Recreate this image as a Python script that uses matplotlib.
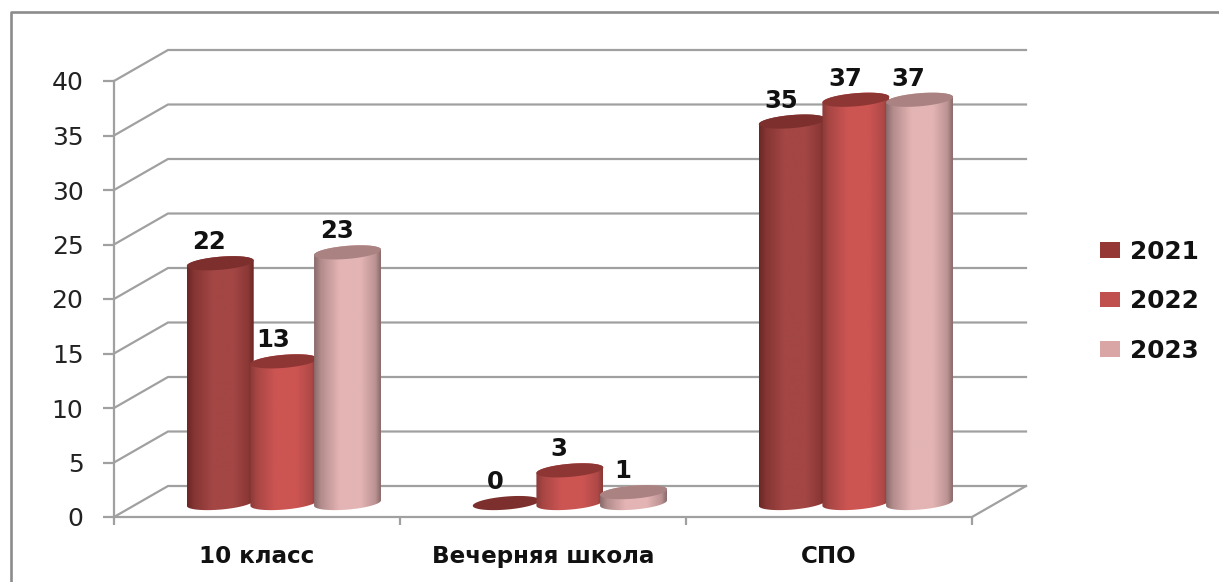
import numpy as np
import matplotlib
matplotlib.use("Agg")
import matplotlib.pyplot as plt
from matplotlib.colors import LinearSegmentedColormap, to_rgb
from matplotlib.lines import Line2D
from matplotlib.patches import Patch, Polygon

categories = ["10 класс", "Вечерняя школа", "СПО"]
years = ["2021", "2022", "2023"]
values_2021 = [22, 0, 35]
values_2022 = [13, 3, 37]
values_2023 = [23, 1, 37]
yticks = [0, 5, 10, 15, 20, 25, 30, 35, 40]

# style per series: edge, body, top, legend swatch
side_colors = ["#6b2725", "#8a3a38", "#8a6a6a"]
mid_colors = ["#a34644", "#cc5552", "#e4b4b4"]
top_colors = ["#7c2f2d", "#8e3634", "#a98281"]
swatch_colors = ["#953735", "#c0504d", "#d9a6a5"]

W, H = 1219, 582
LEFT, RIGHT, BOTTOM, TOP = 114, 972, 517, 81
GRAY = "#a0a0a0"

# depth of the fake 3d box, and bar layout, in data units
DEPTH_X = 54 / 286
DEPTH_Y = 31 / 10.9
BASE_X = 0.594
BASE_Y = 1.28
STEP = 0.2225
RX = 0.117
RY = 0.6
TILT = 0.25

fig = plt.figure(figsize=(W / 100, H / 100), dpi=100, facecolor="w")
ax = fig.add_axes([LEFT / W, 1 - BOTTOM / H, (RIGHT - LEFT) / W, (BOTTOM - TOP) / H])
ax.patch.set_visible(False)


def ellipse_xy(cx, cy, t):
    return cx + RX * np.cos(t), cy + RY * np.sin(t) + TILT * np.cos(t)


def shade_cmap(j):
    side = np.array(to_rgb(side_colors[j]))
    mid = np.array(to_rgb(mid_colors[j]))
    stops = [(0, 0), (0.1, 0.45), (0.38, 1), (0.7, 1), (0.92, 0.55), (1, 0)]
    return LinearSegmentedColormap.from_list(
        "body", [(p, tuple(side + (mid - side) * w)) for p, w in stops])


def draw_cylinder(cx, value, j):
    top = BASE_Y + value
    t = np.linspace(0, 2 * np.pi, 120)
    if value > 0:
        low = np.linspace(np.pi, 2 * np.pi, 60)
        high = np.linspace(0, np.pi, 60)
        xb, yb = ellipse_xy(cx, BASE_Y, low)
        xt, yt = ellipse_xy(cx, top, high)
        outline = np.column_stack([np.r_[xb, xt], np.r_[yb, yt]])
        im = ax.imshow(np.linspace(0, 1, 200).reshape(1, -1), cmap=shade_cmap(j), aspect="auto",
                       extent=(cx - RX, cx + RX, BASE_Y - 1, top + 1), zorder=3 + j,
                       interpolation="bilinear")
        clip = Polygon(outline, closed=True, transform=ax.transData, fc="none", ec="none")
        ax.add_patch(clip)
        im.set_clip_path(clip)
    x, y = ellipse_xy(cx, top, t)
    ax.fill(x, y, color=top_colors[j], lw=0, zorder=3 + j, clip_on=False)
    ax.annotate(str(value), (cx, top), xytext=(-11, 21), textcoords="offset pixels",
                ha="center", va="center", fontsize=17.5, fontweight="bold",
                color="#111111", zorder=10)


# back wall and floor
for v in yticks:
    ax.plot([0, DEPTH_X, 3 + DEPTH_X], [v, v + DEPTH_Y, v + DEPTH_Y],
            color=GRAY, lw=1.6, clip_on=False, zorder=1, solid_joinstyle="miter")
ax.plot([3, 3 + DEPTH_X], [0, DEPTH_Y], color=GRAY, lw=1.6, clip_on=False, zorder=1)

series = [values_2021, values_2022, values_2023]
for j, vals in enumerate(series):
    for i, v in enumerate(vals):
        draw_cylinder(i + BASE_X + (j - 1) * STEP, v, j)

ax.set_xlim(0, 3)
ax.set_ylim(0, 40)

for s in ["top", "right"]:
    ax.spines[s].set_visible(False)
for s in ["left", "bottom"]:
    ax.spines[s].set_color(GRAY)
    ax.spines[s].set_linewidth(1.6)

ax.set_yticks(yticks)
ax.tick_params(axis="y", length=8, width=1.6, color=GRAY, pad=14, labelsize=18, labelcolor="#222222")
ax.set_xticks([0, 1, 2, 3], ["", "", "", ""])
ax.tick_params(axis="x", which="major", length=6, width=1.6, color=GRAY)
ax.set_xticks([0.5, 1.5, 2.5], categories, minor=True)
ax.tick_params(axis="x", which="minor", length=0, pad=20, labelsize=16.6, labelcolor="#111111")
for lab in ax.get_xticklabels(minor=True):
    lab.set_fontweight("bold")

handles = [Patch(facecolor=c, edgecolor="none", label=y) for c, y in zip(swatch_colors, years)]
leg = ax.legend(handles=handles, loc="center left", bbox_to_anchor=(1.149, 0.495), frameon=False,
                borderpad=0, borderaxespad=0, handlelength=0.82, handleheight=0.58,
                handletextpad=0.38, labelspacing=1.03, prop={"size": 17.8, "weight": "bold"})
for t in leg.get_texts():
    t.set_color("#111111")

# outer frame, only the top and left edges show in the crop
fig.add_artist(Line2D([1, 11 / W, 11 / W], [1 - 12 / H, 1 - 12 / H, 0],
                      transform=fig.transFigure, color="#8c8c8c", lw=1.9))

fig.savefig("out.png", dpi=100, facecolor="w")
